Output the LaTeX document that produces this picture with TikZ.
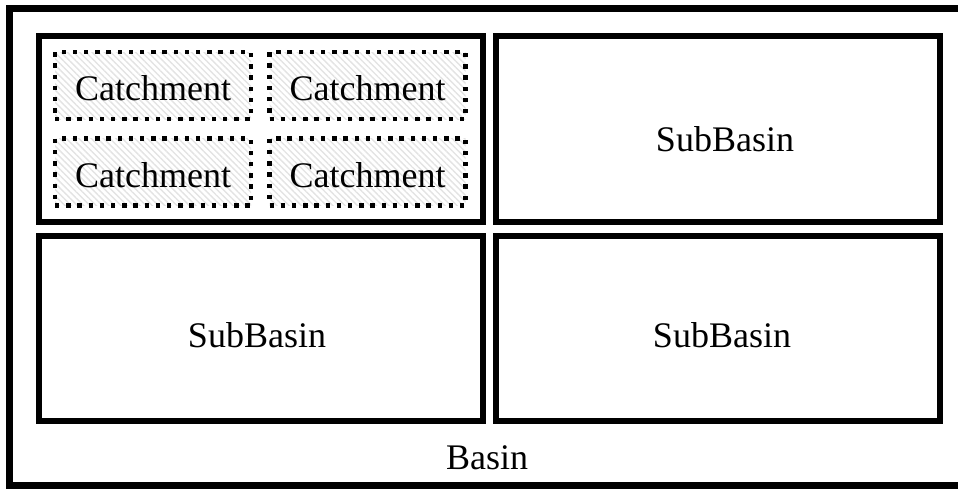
\documentclass[tikz,border=0pt]{standalone}
\usepackage{fontspec}
\setmainfont{Liberation Serif}
\usetikzlibrary{patterns.meta,positioning}
\tikzset{x=0.5pt, y=-0.5pt, % one unit per pixel, y pointing down
every node/.style={font=\fontsize{18}{22}\selectfont}, % sets the text size of all labels
basin/.style={draw, line width=3.5pt, minimum width=476.25pt, minimum height=238.75pt}, % the outer frame
subbasin/.style={draw, line width=3pt, minimum width=222pt, minimum height=92.75pt}, % the four inner frames
catchment/.style={draw, line width=2.2pt, dash pattern=on 2.2pt off 3.4pt, % square dots
  minimum width=98pt, minimum height=33.5pt, text height=15.3pt, text depth=0pt,
  pattern={Lines[angle=-45, distance=2.2pt, line width=0.7pt]}, pattern color=gray!22},
}

\begin{document}
\begin{tikzpicture}
\useasboundingbox (0,0) rectangle (958,489);
\clip (0,0) rectangle (958,489);
\node[basin] (basin) at (485.75,246.75) {};
\node (basinlabel) at (487,458) {Basin};
% subbasins
\node[subbasin] (sub1) at (260.5,128.75) {};
\node[subbasin] (sub2) at (718,128.75) {};
\node[subbasin] (sub3) at (260.5,328.25) {};
\node[subbasin] (sub4) at (718,328.25) {};
\node (sub2label) at (725,139) {SubBasin};
\node (sub3label) at (257,335) {SubBasin};
\node (sub4label) at (722,335) {SubBasin};
% catchments inside the first subbasin
\node[catchment] (c1) at (153,85.5) {Catchment};
\node[catchment] (c2) at (367.5,85.5) {Catchment};
\node[catchment] (c3) at (153,172) {Catchment};
\node[catchment] (c4) at (367.5,172) {Catchment};
\end{tikzpicture}
\end{document}
